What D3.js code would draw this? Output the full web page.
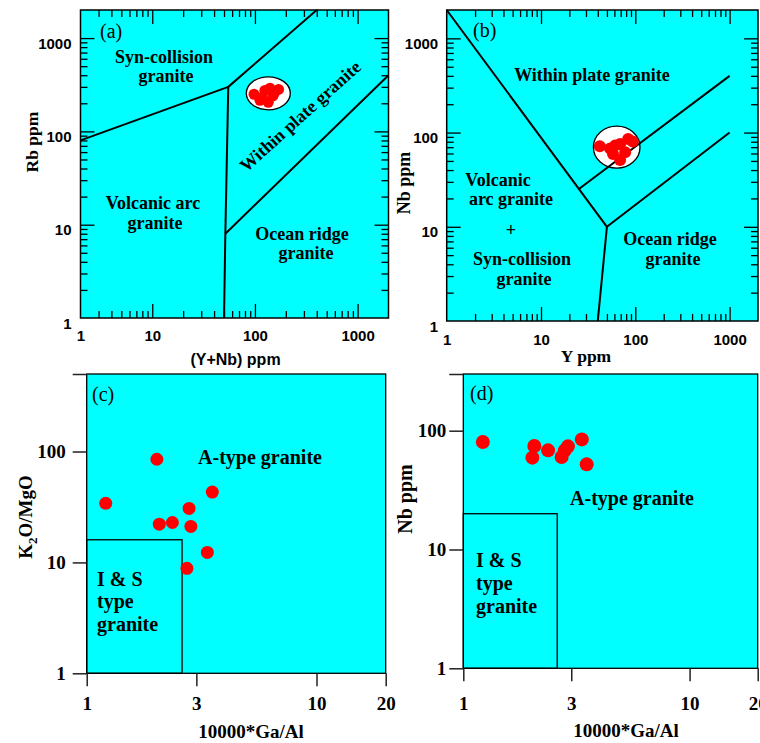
<!DOCTYPE html>
<html lang="en">
<head>
<meta charset="UTF-8">
<title>Granite discrimination diagrams</title>
<style>
  body { margin: 0; background: #fff; }
  .serif { font-family: "Liberation Serif", "Times New Roman", serif; }
  .sans { font-family: "Liberation Sans", Arial, sans-serif; }
  .lbl { font-weight: bold; font-size: 18px; }
</style>
</head>
<body>
<svg id="chart" width="760" height="743"></svg>
<script src="https://d3js.org/d3.v7.min.js"></script>
<script>
// ---------- data ----------
// (a) Rb vs (Y+Nb)
const aYNb = [98, 112, 125, 140, 155, 170, 118, 135, 150];
const aRb  = [250, 215, 275, 290, 260, 282, 232, 205, 240];
const aCloud = [135, 256];
const aBounds = [
  [[2, 80], [55, 300]],
  [[55, 300], [400, 2000]],
  [[55, 300], [51.5, 8], [50, 1]],
  [[51.5, 8], [2000, 400]]
];
const aXTicks = [2, 10, 100, 1000];
const aXTickLabels = ["1", "10", "100", "1000"];

// (b) Nb vs Y
const bY  = [42, 54, 69, 84, 94, 69, 58, 78, 61];
const bNb = [71.5, 67.6, 75.8, 85.7, 80.2, 51.3, 59.3, 61.7, 72.7];
const bCloud = [63.5, 70];
const bBounds = [
  [[1, 2000], [50, 10], [40, 1]],
  [[50, 10], [1000, 100]],
  [[25, 25], [1000, 400]]
];
const bXTicks = [1, 10, 100, 1000];
const abYTicks = [1, 10, 100, 1000];

// (c) K2O/MgO vs 10000*Ga/Al
const cGaAl   = [1.21, 2.02, 2.07, 2.36, 2.79, 2.84, 3.35, 3.52, 2.73];
const cK2OMgO = [34.1, 85.2, 22.1, 22.9, 30.7, 21.1, 12.3, 43.1, 8.85];
const cBox = [2.6, 16];
const cYTicks = [1, 10, 100, 500];

// (d) Nb vs 10000*Ga/Al
const dGaAl = [1.22, 2.06, 2.02, 2.37, 2.72, 2.81, 2.90, 3.34, 3.51];
const dNb   = [80.2, 74.3, 59.3, 68.3, 60.0, 68.3, 73.8, 84.5, 52.1];
const dBox = [2.6, 20];
const dYTicks = [1, 10, 100, 300];

const gaAlTicks = [1, 3, 10, 20];

// ---------- drawing ----------
const cyan = "#00ffff";
const red = "#ff0000";
const svg = d3.select("#chart");

const ax = d3.scaleLog().domain([2, 2000]).range([80.5, 388.5]);
const ay = d3.scaleLog().domain([1, 2000]).range([318, 10]);
const bx = d3.scaleLog().domain([1, 2000]).range([446.7, 758]);
const by = d3.scaleLog().domain([1, 2000]).range([321, 10]);
const cx = d3.scaleLog().domain([1, 20]).range([86.7, 385.7]);
const cy = d3.scaleLog().domain([1, 500]).range([673.3, 374]);
const dx = d3.scaleLog().domain([1, 20]).range([463.3, 757.7]);
const dy = d3.scaleLog().domain([1, 300]).range([668.3, 374]);

const isDecade = v => Math.abs(Math.log10(v) - Math.round(Math.log10(v))) < 1e-9;

function background(x, y) {
  const [x0, x1] = x.range(), [yb, yt] = y.range();
  svg.append("rect").attr("x", x0).attr("y", yt)
    .attr("width", x1 - x0).attr("height", yb - yt).attr("fill", cyan);
}

function border(x, y, w) {
  const [x0, x1] = x.range(), [yb, yt] = y.range();
  svg.append("rect").attr("x", x0).attr("y", yt)
    .attr("width", x1 - x0).attr("height", yb - yt)
    .attr("fill", "none").attr("stroke", "#000").attr("stroke-width", w);
}

function cleanAxis(g) {
  g.select(".domain").remove();
  g.selectAll("line").attr("stroke", "#000").attr("stroke-width", 1.3);
}

// ticks on all four sides, pointing in (panels a, b)
function insideTicks(x, y) {
  const [x0, x1] = x.range(), [yb, yt] = y.range();
  const xd = x.domain(), yd = y.domain();
  const xMaj = x.ticks().filter(v => isDecade(v) && v > xd[0] && v < xd[1]);
  const xMin = x.ticks().filter(v => !isDecade(v) && v > xd[0] && v < xd[1]);
  const yMaj = y.ticks().filter(v => isDecade(v) && v > yd[0] && v < yd[1]);
  const yMin = y.ticks().filter(v => !isDecade(v) && v > yd[0] && v < yd[1]);
  [[xMaj, 14], [xMin, 7]].forEach(([vals, len]) => {
    svg.append("g").attr("transform", `translate(0,${yb})`)
      .call(d3.axisBottom(x).tickValues(vals).tickSize(-len).tickFormat("")).call(cleanAxis);
    svg.append("g").attr("transform", `translate(0,${yt})`)
      .call(d3.axisTop(x).tickValues(vals).tickSize(-len).tickFormat("")).call(cleanAxis);
  });
  [[yMaj, 14], [yMin, 7]].forEach(([vals, len]) => {
    svg.append("g").attr("transform", `translate(${x0},0)`)
      .call(d3.axisLeft(y).tickValues(vals).tickSize(-len).tickFormat("")).call(cleanAxis);
    svg.append("g").attr("transform", `translate(${x1},0)`)
      .call(d3.axisRight(y).tickValues(vals).tickSize(-len).tickFormat("")).call(cleanAxis);
  });
}

function tickLabelsAB(x, y, xVals, xLabels, xPad, yPad) {
  const [x0] = x.range(), [yb] = y.range();
  svg.append("g").attr("transform", `translate(0,${yb})`)
    .call(d3.axisBottom(x).tickValues(xVals).tickSize(0).tickPadding(xPad)
      .tickFormat((d, i) => xLabels[i]))
    .call(g => g.select(".domain").remove())
    .call(g => g.selectAll("text").attr("class", "sans")
      .attr("font-size", 15).attr("font-weight", "bold").attr("fill", "#000"))
    .attr("font-family", null).attr("font-size", null);
  svg.append("g").attr("transform", `translate(${x0},0)`)
    .call(d3.axisLeft(y).tickValues(abYTicks).tickSize(0).tickPadding(yPad)
      .tickFormat(d3.format("d")))
    .call(g => g.select(".domain").remove())
    .call(g => g.selectAll("text").attr("class", "sans").attr("dy", "0.67em")
      .attr("font-size", 15).attr("font-weight", "bold").attr("fill", "#000"))
    .attr("font-family", null).attr("font-size", null);
}

function outsideAxes(x, y, yVals, xPad, yPad) {
  const [x0] = x.range(), [yb] = y.range();
  const yTop = y.domain()[1];
  svg.append("g").attr("transform", `translate(0,${yb})`)
    .call(d3.axisBottom(x).tickValues(gaAlTicks).tickSize(13).tickPadding(xPad)
      .tickFormat(d3.format("d")))
    .call(g => g.select(".domain").remove())
    .call(g => g.selectAll("line").attr("stroke", "#222").attr("stroke-width", 1.5))
    .call(g => g.selectAll("text").attr("class", "serif")
      .attr("font-size", 19).attr("font-weight", "bold").attr("fill", "#000"))
    .attr("font-family", null).attr("font-size", null);
  svg.append("g").attr("transform", `translate(${x0},0)`)
    .call(d3.axisLeft(y).tickValues(yVals).tickSize(14).tickPadding(yPad)
      .tickFormat(d => d === yTop ? "" : d3.format("d")(d)))
    .call(g => g.select(".domain").remove())
    .call(g => g.selectAll("line").attr("stroke", "#222").attr("stroke-width", 1.5))
    .call(g => g.selectAll("text").attr("class", "serif")
      .attr("font-size", 19).attr("font-weight", "bold").attr("fill", "#000"))
    .attr("font-family", null).attr("font-size", null);
}

const line = (x, y) => d3.line().x(d => x(d[0])).y(d => y(d[1]));

function dots(x, y, xs, ys, r) {
  svg.append("g").selectAll("circle")
    .data(xs.map((v, i) => [v, ys[i]]))
    .join("circle")
    .attr("cx", d => x(d[0])).attr("cy", d => y(d[1]))
    .attr("r", r).attr("fill", red);
}

function text(str, px, py, cls, opts = {}) {
  const t = svg.append("text").attr("x", px).attr("y", py).attr("class", cls)
    .attr("text-anchor", opts.anchor || "middle").text(str);
  if (opts.size) t.attr("font-size", opts.size);
  if (opts.weight) t.attr("font-weight", opts.weight);
  if (opts.rotate !== undefined) {
    t.attr("x", 0).attr("y", 0)
      .attr("transform", `translate(${px},${py}) rotate(${opts.rotate})`);
  }
  return t;
}

// ----- panel (a) -----
background(ax, ay);
svg.append("ellipse").attr("cx", ax(aCloud[0])).attr("cy", ay(aCloud[1]))
  .attr("rx", 22).attr("ry", 16.5).attr("fill", "#fff")
  .attr("stroke", "#000").attr("stroke-width", 1.3);
aBounds.forEach(b => svg.append("path").attr("d", line(ax, ay)(b))
  .attr("fill", "none").attr("stroke", "#000").attr("stroke-width", 2));
dots(ax, ay, aYNb, aRb, 5.5);
insideTicks(ax, ay);
border(ax, ay, 1.5);
tickLabelsAB(ax, ay, aXTicks, aXTickLabels, 12, 9);

text("(a)", 100, 38, "serif", { anchor: "start", size: 20 });
text("Syn-collision", 164, 63, "serif lbl");
text("granite", 166, 82, "serif lbl");
text("Volcanic arc", 153, 209, "serif lbl");
text("granite", 155, 229, "serif lbl");
text("Ocean ridge", 302, 240, "serif lbl");
text("granite", 306, 259, "serif lbl");
text("Within plate granite", 300, 116, "serif lbl", { rotate: -42 }).attr("dy", "0.35em");
text("Rb ppm", 38, 142, "serif", { size: 17.5, weight: "bold", rotate: -90 });
text("(Y+Nb) ppm", 235.5, 365, "sans", { size: 16, weight: "bold" });

// ----- panel (b) -----
background(bx, by);
svg.append("ellipse").attr("cx", bx(bCloud[0])).attr("cy", by(bCloud[1]))
  .attr("rx", 23.3).attr("ry", 21).attr("fill", "#fff")
  .attr("stroke", "#000").attr("stroke-width", 1.3);
bBounds.forEach(b => svg.append("path").attr("d", line(bx, by)(b))
  .attr("fill", "none").attr("stroke", "#000").attr("stroke-width", 2));
dots(bx, by, bY, bNb, 6);
insideTicks(bx, by);
border(bx, by, 1.5);
tickLabelsAB(bx, by, bXTicks, bXTicks.map(String), 13, 8.5);

text("(b)", 473, 37, "serif", { anchor: "start", size: 20 });
text("Within plate granite", 592, 81, "serif lbl");
text("Volcanic", 498, 186, "serif lbl");
text("arc granite", 511, 205, "serif lbl");
text("+", 511, 236, "serif lbl");
text("Syn-collision", 522, 265, "serif lbl");
text("granite", 524, 285, "serif lbl");
text("Ocean ridge", 670, 245, "serif lbl");
text("granite", 673, 265, "serif lbl");
text("Nb ppm", 410, 183, "serif", { size: 18, weight: "bold", rotate: -90 });
text("Y ppm", 586, 362, "serif", { size: 17.5, weight: "bold" });

// ----- panel (c) -----
background(cx, cy);
svg.append("rect").attr("x", cx(1)).attr("y", cy(cBox[1]))
  .attr("width", cx(cBox[0]) - cx(1)).attr("height", cy(1) - cy(cBox[1]))
  .attr("fill", cyan).attr("stroke", "#000").attr("stroke-width", 1.3);
dots(cx, cy, cGaAl, cK2OMgO, 6.5);
border(cx, cy, 1.3);
outsideAxes(cx, cy, cYTicks, 10, 7);

text("(c)", 92, 401, "serif", { anchor: "start", size: 20 });
text("A-type granite", 260, 464, "serif", { size: 20, weight: "bold" });
text("I & S", 97, 586, "serif", { anchor: "start", size: 20, weight: "bold" });
text("type", 97, 608, "serif", { anchor: "start", size: 20, weight: "bold" });
text("granite", 97, 631, "serif", { anchor: "start", size: 20, weight: "bold" });
const k = text("K", 32, 517, "serif", { size: 19, weight: "bold", rotate: -90 });
k.append("tspan").attr("font-size", 13).attr("dy", 5).text("2");
k.append("tspan").attr("dy", -5).text("O/MgO");
text("10000*Ga/Al", 251, 738, "serif", { size: 19, weight: "bold" });

// ----- panel (d) -----
background(dx, dy);
svg.append("rect").attr("x", dx(1)).attr("y", dy(dBox[1]))
  .attr("width", dx(dBox[0]) - dx(1)).attr("height", dy(1) - dy(dBox[1]))
  .attr("fill", cyan).attr("stroke", "#000").attr("stroke-width", 1.3);
dots(dx, dy, dGaAl, dNb, 7);
border(dx, dy, 1.3);
outsideAxes(dx, dy, dYTicks, 15.5, 3);

text("(d)", 470, 400, "serif", { anchor: "start", size: 20 });
text("A-type granite", 632, 505, "serif", { size: 20, weight: "bold" });
text("I & S", 476, 567, "serif", { anchor: "start", size: 20, weight: "bold" });
text("type", 476, 590, "serif", { anchor: "start", size: 20, weight: "bold" });
text("granite", 476, 613, "serif", { anchor: "start", size: 20, weight: "bold" });
text("Nb ppm", 412, 499, "serif", { size: 20, weight: "bold", rotate: -90 });
text("10000*Ga/Al", 626, 737, "serif", { size: 19, weight: "bold" });
</script>
</body>
</html>
